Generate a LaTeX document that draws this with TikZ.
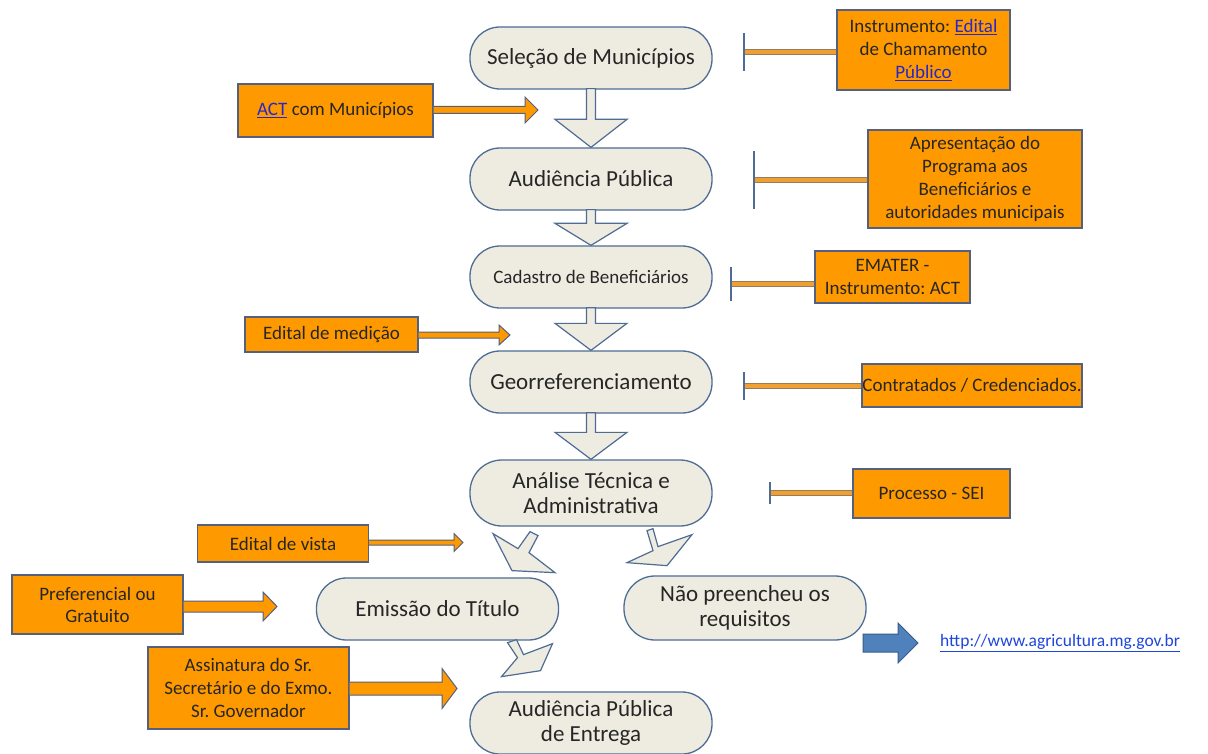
\documentclass[tikz,border=0pt]{standalone}
\usepackage{fontspec}
\setmainfont{Carlito}
\frenchspacing
\usetikzlibrary{calc}
\definecolor{nodefill}{RGB}{238,236,225}
\definecolor{nodeedge}{RGB}{79,108,149}
\definecolor{boxorange}{RGB}{255,153,0}
\definecolor{boxedge}{RGB}{84,96,128}
\definecolor{linkblue}{RGB}{40,40,200}
\definecolor{urlblue}{RGB}{30,70,220}
\definecolor{bluearrow}{RGB}{79,129,189}
\definecolor{bluearrowedge}{RGB}{56,93,138}
\definecolor{txt}{RGB}{38,38,38}
\definecolor{tbaredge}{RGB}{150,125,90}
\definecolor{tbarfill}{RGB}{240,160,50}
\newcommand\orangearrow[5]{%
  \draw[oarrowstyle] ($(#1.east |- #2)+(0,-#5)$) -- ($(#2)+(-#3,-#5)$) -- ($(#2)+(-#3,-#4)$) -- (#2) -- ($(#2)+(-#3,#4)$) -- ($(#2)+(-#3,#5)$) -- ($(#1.east |- #2)+(0,#5)$);}
\newcommand\flowdown[3]{%
  \draw[flowstyle] ($(#1.south)+(-4.5,-1)$) -- ($(#2.north)+(-4.5,-#3)$) -- ($(#2.north)+(-36,-#3)$) -- (#2.north) -- ($(#2.north)+(36,-#3)$) -- ($(#2.north)+(4.5,-#3)$) -- ($(#1.south)+(4.5,-1)$) -- cycle;}
\newcommand\tbar[3]{%
  \draw[line width=5.5pt, tbaredge] (#2) -- (#2 -| #1.west);
  \draw[line width=3.5pt, tbarfill] (#2) -- (#2 -| #1.west);
  \draw[line width=1.5pt, nodeedge] ($(#2)+(0,-#3)$) -- ($(#2)+(0,#3)$);}
\tikzset{
  stage/.style={draw=nodeedge, line width=1.3pt, fill=nodefill, rounded corners=30pt,
    minimum width=242pt, minimum height=62pt, align=center, text=txt,
    font=\fontsize{23}{25.5}\selectfont, inner sep=0pt},
  note/.style={draw=boxedge, line width=1.2pt, fill=boxorange, align=center,
    text=black!85, font=\fontsize{19}{23}\selectfont, inner sep=0pt},
  oarrowstyle/.style={draw=boxedge, line width=1pt, fill=boxorange, line join=miter},
  flowstyle/.style={draw=nodeedge, line width=1.2pt, fill=nodefill, line join=miter},
}
\newcommand\lnk[1]{\textcolor{linkblue}{\underline{#1}}}
\begin{document}
\begin{tikzpicture}[x=1pt,y=-1pt]
\useasboundingbox (0,0) rectangle (1208,754);
\fill[white] (0,0) rectangle (1208,754);

% stages
\node[stage] (sel) at (591,58) {Seleção de Municípios};
\node[stage] (aud) at (591,179) {Audiência Pública};
\node[stage, font=\fontsize{19}{22}\selectfont] (cad) at (591,277) {Cadastro de Beneficiários};
\node[stage] (geo) at (591,382) {Georreferenciamento};
\node[stage, minimum height=66pt, rounded corners=32pt] (ana) at (591,493) {Análise Técnica e\\Administrativa};
\node[stage] (emi) at (437.5,609) {Emissão do Título};
\node[stage, minimum height=64pt, rounded corners=31pt] (nao) at (745,608) {Não preencheu os\\requisitos};
\node[stage] (ent) at (591,723) {Audiência Pública\\de Entrega};

% flow arrows
\flowdown{sel}{aud}{28}
\flowdown{aud}{cad}{22}
\flowdown{cad}{geo}{27}
\flowdown{geo}{ana}{27}
\draw[flowstyle] ($(ana.south)+(-61,5)$) -- ($(ana.south)+(-53,9)$) -- ($(ana.south)+(-62,26)$) -- ($(ana.south)+(-36,46)$) -- ($(ana.south)+(-79,44)$) -- ($(ana.south)+(-98,7)$) -- ($(ana.south)+(-73,22)$) -- cycle;
\draw[flowstyle] ($(ana.south)+(56,4)$) -- ($(ana.south)+(62,2)$) -- ($(ana.south)+(67,20)$) -- ($(ana.south)+(101,8)$) -- ($(ana.south)+(76,39)$) -- ($(ana.south)+(36,36)$) -- ($(ana.south)+(62,24)$) -- cycle;
\draw[flowstyle] ($(emi.south)+(70,2)$) -- ($(emi.south)+(79,-1)$) -- ($(emi.south)+(86,14)$) -- ($(emi.south)+(115,3)$) -- ($(emi.south)+(103,30)$) -- ($(emi.south)+(64,36)$) -- ($(emi.south)+(80,17)$) -- cycle;

% notes with T connectors
\node[note, minimum width=173pt, minimum height=80pt] (instr) at (923.5,50) {Instrumento: \lnk{Edital}\\de Chamamento\\\lnk{Público}};
\node[note, minimum width=214pt, minimum height=98pt] (apres) at (975,179) {Apresentação do\\Programa aos\\Beneficiários e\\autoridades municipais};
\node[note, minimum width=155pt, minimum height=52pt] (emater) at (892.5,277) {EMATER -\\Instrumento: ACT};
\node[note, minimum width=220pt, minimum height=43pt] (contr) at (972,385.5) {Contratados / Credenciados.};
\node[note, minimum width=157pt, minimum height=49pt] (proc) at (931.5,493.5) {Processo - SEI};
\coordinate (instrBar) at (744,52);
\coordinate (apresBar) at (754,180);
\coordinate (ematerBar) at (731,284);
\coordinate (contrBar) at (744,386);
\coordinate (procBar) at (770,493);
\tbar{instr}{instrBar}{19}
\tbar{apres}{apresBar}{29}
\tbar{emater}{ematerBar}{17}
\tbar{contr}{contrBar}{14}
\tbar{proc}{procBar}{11}

% notes with arrows
\node[note, minimum width=195pt, minimum height=53pt] (act) at (335.5,110.5) {\lnk{ACT} com Municípios};
\node[note, minimum width=173pt, minimum height=35pt] (medic) at (331.5,334.5) {Edital de medição};
\node[note, minimum width=171pt, minimum height=37pt] (vista) at (283,543.5) {Edital de vista};
\node[note, minimum width=171pt, minimum height=59pt, font=\fontsize{19}{22}\selectfont] (pref) at (97.5,604.5) {Preferencial ou\\Gratuito};
\node[note, minimum width=201pt, minimum height=82pt] (assin) at (248.5,688) {Assinatura do Sr.\\Secretário e do Exmo.\\Sr. Governador};
\coordinate (actTip) at (538,110);
\coordinate (medicTip) at (510,335);
\coordinate (vistaTip) at (463,542.5);
\coordinate (prefTip) at (277,606.5);
\coordinate (assinTip) at (457,688.5);
\orangearrow{act}{actTip}{13}{13}{3.5}
\orangearrow{medic}{medicTip}{11}{10}{3}
\orangearrow{vista}{vistaTip}{9}{9}{2.5}
\orangearrow{pref}{prefTip}{14}{14.5}{5.5}
\orangearrow{assin}{assinTip}{15}{20}{6.5}

% blue arrow and link
\node[anchor=west, text=urlblue, font=\fontsize{17.5}{20}\selectfont, inner sep=0pt] (url) at (940,643) {\underline{http://www.agricultura.mg.gov.br}};
\coordinate (blueTail) at (863,643);
\draw[draw=bluearrowedge, line width=1pt, fill=bluearrow, line join=miter]
  ($(blueTail)+(0,-9)$) -- ($(blueTail)+(35,-9)$) -- ($(blueTail)+(35,-20)$) -- ($(blueTail)+(55,0)$) -- ($(blueTail)+(35,20)$) -- ($(blueTail)+(35,9)$) -- ($(blueTail)+(0,9)$) -- cycle;
\end{tikzpicture}
\end{document}
